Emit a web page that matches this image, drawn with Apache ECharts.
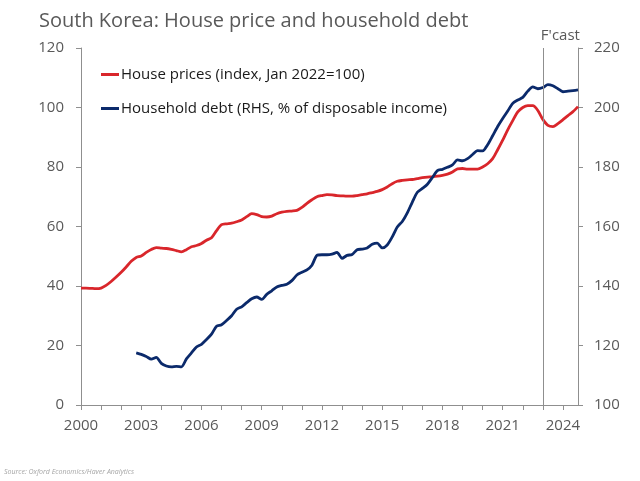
<!DOCTYPE html>
<html>
<head>
<meta charset="utf-8">
<script src="https://cdn.jsdelivr.net/npm/echarts@6/dist/echarts.min.js"></script>
<style>html,body{margin:0;padding:0;background:#fff}#c{width:640px;height:481px}</style>
</head>
<body>
<div id="c"></div>
<script>
const titleText = 'South Korea: House price and household debt';
const sourceText = 'Source: Oxford Economics/Haver Analytics';
const houseName = 'House prices (index, Jan 2022=100)';
const debtName = 'Household debt (RHS, % of disposable income)';
const forecastStart = 2023;
const forecastLabel = "F'cast";
const xTickYears = [2000,2001,2002,2003,2004,2005,2006,2007,2008,2009,2010,2011,2012,2013,2014,2015,2016,2017,2018,2019,2020,2021,2022,2023,2024];
const xLabelYears = [2000,2003,2006,2009,2012,2015,2018,2021,2024];

// quarters 2000Q1 .. 2024Q4
const quarters = [];
for (let y = 2000; y <= 2024; y++) for (let q = 1; q <= 4; q++) quarters.push(y + 'Q' + q);

const housePrices = [
 39.3,39.3,39.2,39.1, 39.3,40.2,41.5,43.0, 44.6,46.4,48.3,49.6, 50.1,51.3,52.3,52.9,
 52.7,52.6,52.3,51.9, 51.5,52.2,53.2,53.6, 54.3,55.4,56.2,58.6, 60.6,60.9,61.1,61.6,
 62.2,63.3,64.3,64.0, 63.3,63.2,63.5,64.3, 64.8,65.1,65.2,65.4, 66.4,67.8,69.0,70.0,
 70.4,70.7,70.6,70.4, 70.3,70.2,70.2,70.4, 70.7,71.0,71.4,71.8, 72.4,73.3,74.4,75.2,
 75.5,75.7,75.8,76.1, 76.4,76.6,76.7,76.9, 77.2,77.6,78.3,79.4, 79.5,79.3,79.3,79.3,
 80.0,81.1,82.8,85.8, 89.0,92.5,95.6,98.5, 100.0,100.6,100.6,99.0, 96.0,94.0,93.6,94.6,
 95.9,97.3,98.6,100.3
];
const householdDebt = [
 null,null,null,null, null,null,null,null, null,null,null,117.5, 117.0,116.3,115.4,116.0,
 114.0,113.1,112.8,113.0, 112.8,115.5,117.5,119.5, 120.4,122.0,123.8,126.5, 127.0,128.4,130.0,132.2,
 133.0,134.4,135.7,136.3, 135.5,137.2,138.4,139.7, 140.2,140.6,141.8,143.7, 144.6,145.4,147.0,150.3,
 150.5,150.5,150.7,151.3, 149.3,150.3,150.6,152.2, 152.4,152.8,154.0,154.4, 152.8,153.8,156.5,159.8,
 161.7,164.6,168.2,171.5, 172.8,174.2,176.5,178.8, 179.2,179.9,180.7,182.4, 182.1,182.8,184.2,185.5,
 185.4,187.5,190.5,193.6, 196.3,198.8,201.4,202.5, 203.4,205.5,206.9,206.3, 206.7,207.7,207.3,206.3,
 205.3,205.5,205.7,205.9
];
const leftTicks = [0,20,40,60,80,100,120];
const rightTicks = [100,120,140,160,180,200,220];

function qx(label){ const y = +label.slice(0,4), q = +label.slice(5); return y + (q-1)/4; }
const houseData = quarters.map((l,i)=>[qx(l), housePrices[i]]);
const debtData = quarters.map((l,i)=>[qx(l), householdDebt[i]]).filter(d=>d[1]!==null);

const gray = '#8f8f8f';
const txt = '#595959';
const FF = 'Open Sans';

const chart = echarts.init(document.getElementById('c'), null, {renderer:'canvas'});
chart.setOption({
  animation:false,
  backgroundColor:'#fff',
  textStyle:{fontFamily:FF},
  title:{text:titleText, left:34, top:6, textStyle:{fontFamily:FF,fontSize:20,fontWeight:'normal',color:txt}},
  graphic:[{type:'text', left:4, top:468, style:{text:sourceText, font:'italic 7px '+FF, fill:'#a6a6a6'}}],
  legend:{
    left:96, top:62, orient:'vertical', itemGap:19, itemWidth:18, itemHeight:3, icon:'rect',
    textStyle:{fontFamily:FF, fontSize:15, color:'#1a1a1a', padding:[0,0,0,-3]},
    data:[houseName, debtName]
  },
  grid:{left:81, right:62, top:48, bottom:76, containLabel:false},
  xAxis:{
    type:'value', min:2000, max:2024.75,
    axisLine:{show:true, lineStyle:{color:gray, width:1}},
    axisTick:{show:true, length:5, lineStyle:{color:gray}, customValues:xTickYears},
    axisLabel:{customValues:xLabelYears, fontSize:15, color:txt, margin:13, fontFamily:FF, formatter:v=>String(Math.round(v))},
    splitLine:{show:false}
  },
  yAxis:[
    {type:'value', min:0, max:120, interval:20, position:'left',
     axisLine:{show:true, lineStyle:{color:gray}},
     axisTick:{show:true, length:5, lineStyle:{color:gray}},
     axisLabel:{fontSize:15, color:txt, margin:17, fontFamily:FF},
     splitLine:{show:false}},
    {type:'value', min:100, max:220, interval:20, position:'right',
     axisLine:{show:true, lineStyle:{color:gray}},
     axisTick:{show:true, length:5, lineStyle:{color:gray}},
     axisLabel:{fontSize:15, color:txt, margin:16, fontFamily:FF},
     splitLine:{show:false}}
  ],
  series:[
    {name:houseName, type:'line', yAxisIndex:0, data:houseData, showSymbol:false, symbol:'none',
     smooth:0.25, lineStyle:{color:'#d9262b', width:2.8}, itemStyle:{color:'#d9262b'},
     markLine:{silent:true, symbol:['none','none'], animation:false,
       lineStyle:{color:gray, width:1, type:'solid'},
       label:{show:true, position:'end', formatter:forecastLabel, color:txt, fontSize:15, fontFamily:FF, align:'left', offset:[-2,0]},
       data:[{xAxis:forecastStart}]}},
    {name:debtName, type:'line', yAxisIndex:1, data:debtData, showSymbol:false, symbol:'none',
     smooth:0.25, lineStyle:{color:'#0b2a6b', width:2.8}, itemStyle:{color:'#0b2a6b'}}
  ]
});
</script>
</body>
</html>
